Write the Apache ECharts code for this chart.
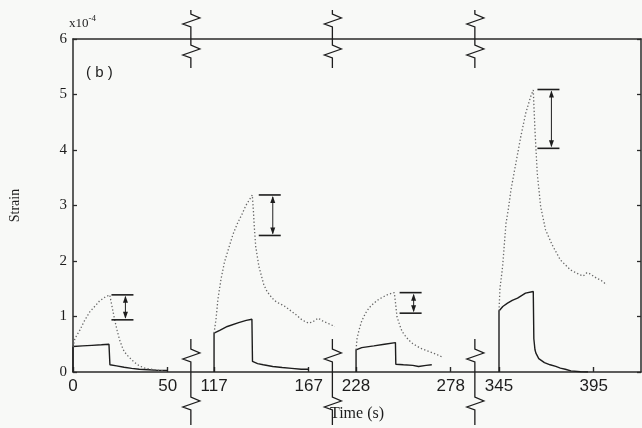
<!DOCTYPE html>
<html>
<head>
<meta charset="utf-8">
<script src="https://cdn.jsdelivr.net/npm/echarts@6/dist/echarts.min.js"></script>
<style>
  html, body { margin: 0; padding: 0; background: #f8f9f7; }
  #chart { width: 642px; height: 428px; }
</style>
</head>
<body>
<div id="chart"></div>
<script>
// Recording windows (time in s) shown side by side on a broken time axis
const windowStart = [0, 117, 228, 345];
const windowEnd = [50, 167, 278, 395];
const tickLabels = ['0', '50', '117', '167', '228', '278', '345', '395'];

// Strain (x10^-4) against time (s) - solid trace
const solid1 = [[0,0],[0,0.46],[5,0.47],[10,0.48],[15,0.49],[19,0.50],[19.5,0.13],[23,0.11],[27,0.085],[31,0.065],[35,0.05],[40,0.04],[45,0.03],[50,0.03]];
const solid2 = [[117,0],[117,0.70],[120,0.75],[124,0.82],[130,0.89],[134,0.93],[137,0.95],[137.3,0.19],[140,0.15],[143,0.13],[148,0.10],[153,0.08],[158,0.065],[163,0.05],[167,0.05]];
const solid3 = [[228,0],[228,0.40],[231,0.44],[237.4,0.47],[243,0.50],[248.8,0.53],[249,0.14],[253,0.13],[258,0.12],[261,0.10],[262,0.12],[265,0.12],[268,0.13]];
const solid4 = [[345,0],[345,1.10],[347,1.18],[349.5,1.24],[352,1.29],[354.8,1.33],[359,1.42],[363.1,1.45],[363.4,0.6],[364,0.4],[364.5,0.34],[366,0.24],[367,0.22],[369,0.17],[372,0.13],[375,0.10],[377.4,0.07],[380,0.05],[383,0.02],[388,0.005],[392,0]];

// Strain (x10^-4) against time (s) - dotted trace
const dotted1 = [[0,0.45],[1,0.6],[3.7,0.76],[6,0.92],[9,1.09],[12,1.2],[14,1.28],[17,1.35],[19.4,1.39],[20.5,1.2],[22,0.94],[23.3,0.75],[24.6,0.58],[26,0.45],[27,0.37],[29,0.29],[31,0.22],[33,0.16],[35,0.11],[38,0.07],[43,0.04],[48,0.02]];
const dotted2 = [[117,0.70],[118,0.94],[119,1.3],[120.6,1.66],[122.5,1.98],[125,2.26],[127,2.48],[129.4,2.68],[132,2.86],[133.8,3.0],[137.2,3.19],[137.8,2.9],[138.3,2.6],[139,2.26],[140.7,1.90],[143.3,1.57],[145,1.45],[147.7,1.33],[150,1.26],[153,1.21],[155,1.17],[158,1.09],[160,1.04],[163.4,0.94],[166.9,0.88],[169,0.90],[172,0.97],[174.8,0.91],[177,0.88],[180.8,0.82]];
const dotted3 = [[228,0.40],[228.5,0.6],[229.6,0.76],[231,0.92],[233,1.06],[235,1.16],[237.4,1.24],[240,1.31],[242.7,1.36],[245,1.40],[248.2,1.43],[249,1.2],[249.6,1.0],[251,0.85],[252.3,0.73],[254,0.65],[255.7,0.58],[258,0.51],[261.9,0.43],[265,0.39],[268.8,0.34],[271,0.31],[274,0.26]];
const dotted4 = [[345,1.10],[345.5,1.5],[346.9,1.90],[348.7,2.68],[350,2.95],[351.3,3.28],[353.9,3.76],[356.5,4.24],[359.1,4.66],[361.7,4.96],[363.1,5.08],[364,4.36],[365.2,3.58],[367,2.98],[369.6,2.56],[373.1,2.29],[377.4,2.02],[382.7,1.84],[387.9,1.75],[389.5,1.73],[391.4,1.79],[393,1.77],[396.6,1.69],[399,1.65],[401.9,1.57]];

// Range bars: time (s), upper and lower strain (x10^-4)
const errTime = [27.7, 148, 258.4, 372.7];
const errHigh = [1.39, 3.19, 1.43, 5.09];
const errLow = [0.94, 2.46, 1.06, 4.03];

// Where each window begins along the compressed axis
const windowPos = [0, 74.5, 149.5, 225];
const AXIS_MAX = 300;

function windowOf(t) {
  for (let w = windowStart.length - 1; w >= 0; w--) if (t >= windowStart[w]) return w;
  return 0;
}
function toAxis(t) { const w = windowOf(t); return t - windowStart[w] + windowPos[w]; }
function mapTrace(tr) { return tr.map(p => [toAxis(p[0]), p[1]]); }

const tickValues = [];
windowStart.forEach((s, w) => {
  tickValues.push(windowPos[w]);
  tickValues.push(windowPos[w] + windowEnd[w] - s);
});
const breakValues = [];
for (let w = 0; w < windowStart.length - 1; w++) {
  breakValues.push((windowPos[w] + windowEnd[w] - windowStart[w] + windowPos[w + 1]) / 2);
}

const ink = '#1d1d1d';
const axisInk = '#2a2a2a';
const serif = '"Liberation Serif", "DejaVu Serif", serif';
const sans = '"Liberation Sans", "DejaVu Sans", sans-serif';

const solidStyle = { color: ink, width: 1.4 };
const dottedStyle = { color: '#666666', width: 1.3, type: [1.3, 2.2] };

function lineSeries(data, style) {
  return {
    type: 'line', data: mapTrace(data), showSymbol: false, symbol: 'none',
    lineStyle: style, silent: true, animation: false, z: 3
  };
}

function zigPoints(cx, yTop, yBot, centers) {
  const pts = [[cx, yTop]];
  centers.forEach(z => {
    pts.push([cx, z - 6], [cx + 9, z - 2], [cx - 8, z + 4], [cx, z + 7]);
  });
  pts.push([cx, yBot]);
  return pts;
}

const frameLine = { show: true, onZero: false, lineStyle: { color: axisInk, width: 1.5 } };

const chart = echarts.init(document.getElementById('chart'), null, { renderer: 'canvas' });

chart.setOption({
  backgroundColor: '#f8f9f7',
  animation: false,
  grid: { left: 68, right: 1, top: 39, bottom: 56 },
  xAxis: [{
    type: 'value', min: 0, max: AXIS_MAX,
    name: 'Time (s)', nameLocation: 'middle', nameGap: 34,
    nameTextStyle: { fontFamily: serif, fontSize: 16, color: ink },
    axisLine: frameLine,
    axisTick: { show: true, inside: true, length: 5, customValues: tickValues, lineStyle: { color: axisInk, width: 1.4 } },
    axisLabel: {
      customValues: tickValues, margin: 6,
      fontFamily: sans, fontSize: 17, color: ink,
      formatter: (v) => {
        let best = 0;
        tickValues.forEach((tv, i) => { if (Math.abs(tv - v) < Math.abs(tickValues[best] - v)) best = i; });
        return tickLabels[best];
      }
    },
    splitLine: { show: false }
  }, {
    type: 'value', position: 'top', min: 0, max: AXIS_MAX,
    axisLine: frameLine,
    axisTick: { show: false }, axisLabel: { show: false }, splitLine: { show: false }
  }],
  yAxis: [{
    type: 'value', min: 0, max: 6, interval: 1,
    name: 'Strain', nameLocation: 'middle', nameGap: 51,
    nameTextStyle: { fontFamily: serif, fontSize: 14, color: ink },
    axisLine: frameLine,
    axisTick: { show: true, inside: true, length: 4, lineStyle: { color: axisInk, width: 1.3 } },
    axisLabel: { margin: 6, fontFamily: serif, fontSize: 15, color: ink },
    splitLine: { show: false }
  }, {
    type: 'value', position: 'right', min: 0, max: 6, interval: 1,
    axisLine: frameLine,
    axisTick: { show: true, inside: true, length: 4, lineStyle: { color: axisInk, width: 1.3 } },
    axisLabel: { show: false }, splitLine: { show: false }
  }],
  graphic: [{
    type: 'text', left: 69, top: 14,
    style: {
      text: '{a|x10}{b|-4}',
      rich: {
        a: { fontFamily: serif, fontSize: 13, fill: ink, verticalAlign: 'bottom', lineHeight: 16 },
        b: { fontFamily: serif, fontSize: 9, fill: ink, verticalAlign: 'top', lineHeight: 10, padding: [0, 0, 6, 0] }
      }
    }
  }, {
    type: 'text', left: 86, top: 65,
    style: { text: '( b )', fontFamily: sans, fontSize: 15, fill: ink }
  }],
  series: [
    lineSeries(solid1, solidStyle), lineSeries(dotted1, dottedStyle),
    lineSeries(solid2, solidStyle), lineSeries(dotted2, dottedStyle),
    lineSeries(solid3, solidStyle), lineSeries(dotted3, dottedStyle),
    lineSeries(solid4, solidStyle), lineSeries(dotted4, dottedStyle),
    {
      // range bars with arrow heads between two caps
      type: 'custom', clip: false, silent: true, z: 4,
      data: errTime.map((t, i) => [toAxis(t), errHigh[i], errLow[i]]),
      renderItem: (params, api) => {
        const top = api.coord([api.value(0), api.value(1)]);
        const bot = api.coord([api.value(0), api.value(2)]);
        const x = top[0];
        const st = { stroke: ink, lineWidth: 1.6 };
        return {
          type: 'group', children: [
            { type: 'line', shape: { x1: x - 14, y1: top[1], x2: x + 8, y2: top[1] }, style: st },
            { type: 'line', shape: { x1: x - 14, y1: bot[1], x2: x + 8, y2: bot[1] }, style: st },
            { type: 'line', shape: { x1: x, y1: top[1] + 2, x2: x, y2: bot[1] - 2 }, style: { stroke: '#333', lineWidth: 1.1 } },
            { type: 'polygon', shape: { points: [[x, top[1] + 1], [x - 2.5, top[1] + 8], [x + 2.5, top[1] + 8]] }, style: { fill: ink } },
            { type: 'polygon', shape: { points: [[x, bot[1] - 1], [x - 2.5, bot[1] - 8], [x + 2.5, bot[1] - 8]] }, style: { fill: ink } }
          ]
        };
      }
    },
    {
      // break marks on the time axis, top and bottom
      type: 'custom', clip: false, silent: true, z: 5,
      data: breakValues.map(v => [v]),
      renderItem: (params, api) => {
        const b = api.coord([api.value(0), 0]);
        const t = api.coord([api.value(0), 6]);
        const cx = b[0];
        const st = { stroke: ink, lineWidth: 1.3, fill: 'none' };
        return {
          type: 'group', children: [
            { type: 'polyline', shape: { points: zigPoints(cx, t[1] - 29, t[1] + 29, [t[1] - 19, t[1] + 12]) }, style: st },
            { type: 'polyline', shape: { points: zigPoints(cx, b[1] - 33, b[1] + 53, [b[1] - 17, b[1] + 31]) }, style: st }
          ]
        };
      }
    }
  ]
});
</script>
</body>
</html>
